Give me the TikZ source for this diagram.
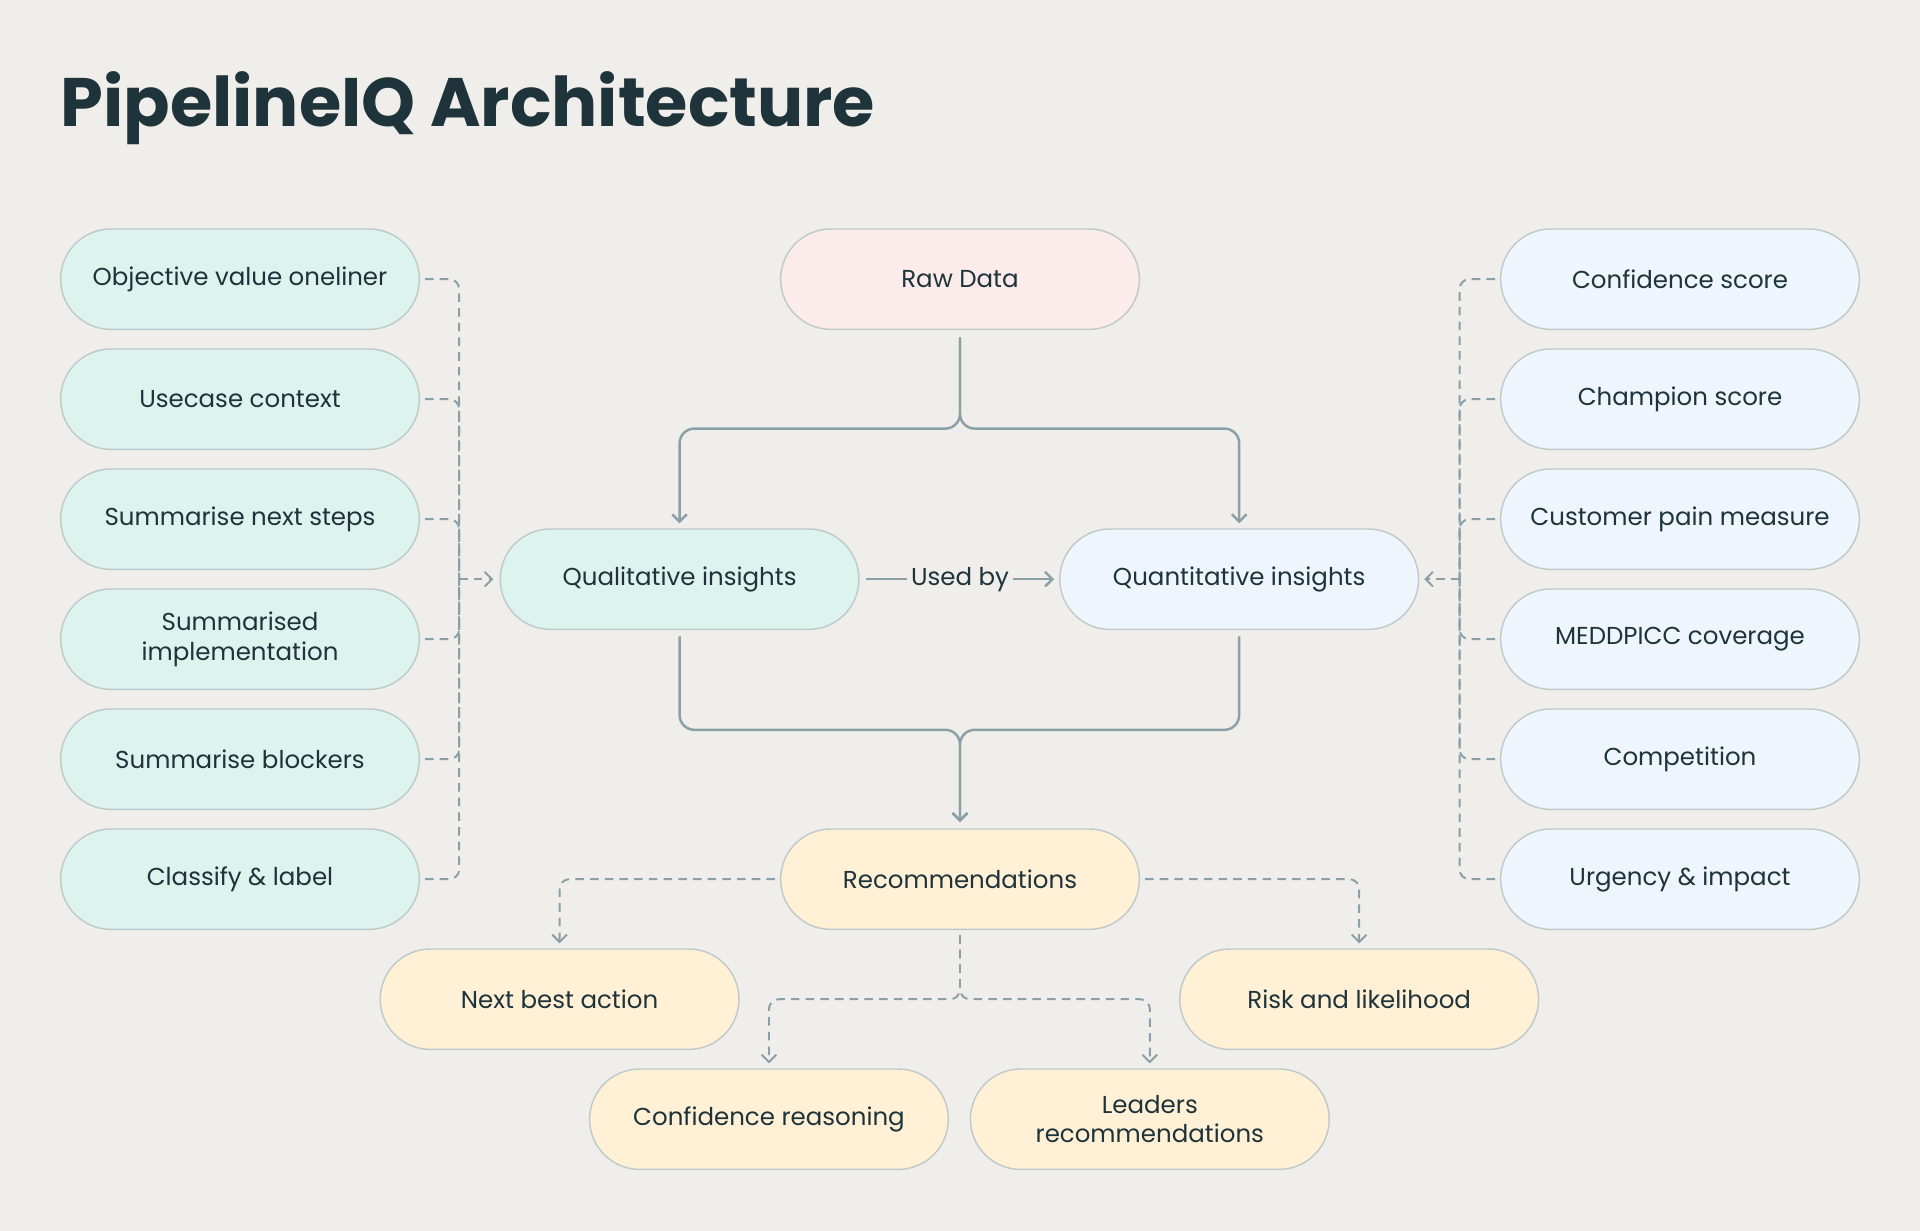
\documentclass[tikz,border=0pt]{standalone}
\usepackage{fontspec}
\setmainfont{Poppins}
\usetikzlibrary{arrows.meta}
\definecolor{bg}{HTML}{F0EEEA}
\definecolor{ink}{HTML}{1E333A}
\definecolor{ln}{HTML}{8A9FA8}
\definecolor{gr}{HTML}{DDF3EE}
\definecolor{rd}{HTML}{FBEBEA}
\definecolor{bl}{HTML}{EEF5FC}
\definecolor{yl}{HTML}{FFF0D6}
\definecolor{bd}{HTML}{BFCBCB}
\begin{document}
\begin{tikzpicture}[x=1pt,y=-1pt,
 box/.style={draw=bd,line width=1.2pt,rounded corners=41pt,minimum width=293pt,minimum height=82pt,align=center,text=ink,font=\fontsize{20}{24}\selectfont,inner sep=2pt},
 gbox/.style={box,fill=gr}, bbox/.style={box,fill=bl}, ybox/.style={box,fill=yl},
 sol/.style={draw=ln,line width=2pt,rounded corners=12pt},
 dsh/.style={draw=ln,line width=1.6pt,dash pattern=on 7pt off 5pt,rounded corners=8pt},
 arr/.style={-{Straight Barb[length=6pt,width=12pt]}}]
\fill[bg] (0,0) rectangle (1568,1005);
\useasboundingbox (0,0) rectangle (1568,1005);
\node[anchor=west,text=ink,font=\fontsize{56}{60}\selectfont\bfseries] (title) at (46,88) {PipelineIQ Architecture};
\node[box,fill=rd] (raw) at (784,228) {Raw Data};
\node[gbox] (qual) at (555,473) {Qualitative insights};
\node[bbox] (quant) at (1012,473) {Quantitative insights};
\node[ybox] (rec) at (784,718) {Recommendations};
\node[ybox] (nba) at (457,816) {Next best action};
\node[ybox] (risk) at (1110,816) {Risk and likelihood};
\node[ybox] (conf) at (628,914) {Confidence reasoning};
\node[ybox] (lead) at (939,914) {Leaders\\recommendations};
\foreach \n/\t/\yy in {l1/Objective value oneliner/228,l2/Usecase context/326,l3/Summarise next steps/424,l4/{Summarised\\implementation}/522,l5/Summarise blockers/620,l6/Classify \& label/718}
 {\node[gbox] (\n) at (196,\yy) {\t};}
\foreach \n/\t/\yy in {r1/Confidence score/228,r2/Champion score/326,r3/Customer pain measure/424,r4/MEDDPICC coverage/522,r5/Competition/620,r6/Urgency \& impact/718}
 {\node[bbox] (\n) at (1372,\yy) {\t};}
% solid connectors
\coordinate (j1) at (784,350);
\draw[sol,arr] ([yshift=-6pt]raw.south) -- (j1) -| ([yshift=4pt]qual.north);
\draw[sol,arr] ([yshift=-6pt]raw.south) -- (j1) -| ([yshift=4pt]quant.north);
\coordinate (j2) at (784,596);
\draw[sol,arr] ([yshift=-5pt]qual.south) |- (j2) -- ([yshift=5pt]rec.north);
\draw[sol,arr] ([yshift=-5pt]quant.south) |- (j2) -- ([yshift=5pt]rec.north);
\node[text=ink,font=\fontsize{20}{24}\selectfont] (used) at (784,473) {Used by};
\draw[sol] ([xshift=5pt]qual.east) -- (used.west);
\draw[sol,arr] (used.east) -- ([xshift=-4pt]quant.west);
% left dashed
\coordinate (lc) at (375,473);
\foreach \n in {l1,l2,l3,l4,l5,l6} {\draw[dsh] ([xshift=4pt]\n.east) -| (lc);}
\draw[dsh,arr] (lc) -- ([xshift=-5pt]qual.west);
\coordinate (rc) at (1192,473);
\foreach \n in {r1,r2,r3,r4,r5,r6} {\draw[dsh] ([xshift=-4pt]\n.west) -| (rc);}
\draw[dsh,arr] (rc) -- ([xshift=4pt]quant.east);
% recommendations dashed
\draw[dsh,arr] ([xshift=-4pt]rec.west) -| ([yshift=4pt]nba.north);
\draw[dsh,arr] ([xshift=4pt]rec.east) -| ([yshift=4pt]risk.north);
\coordinate (j3) at (784,816);
\draw[dsh,arr] ([yshift=-4pt]rec.south) -- (j3) -| ([yshift=4pt]conf.north);
\draw[dsh,arr] ([yshift=-4pt]rec.south) -- (j3) -| ([yshift=4pt]lead.north);
\end{tikzpicture}
\end{document}
